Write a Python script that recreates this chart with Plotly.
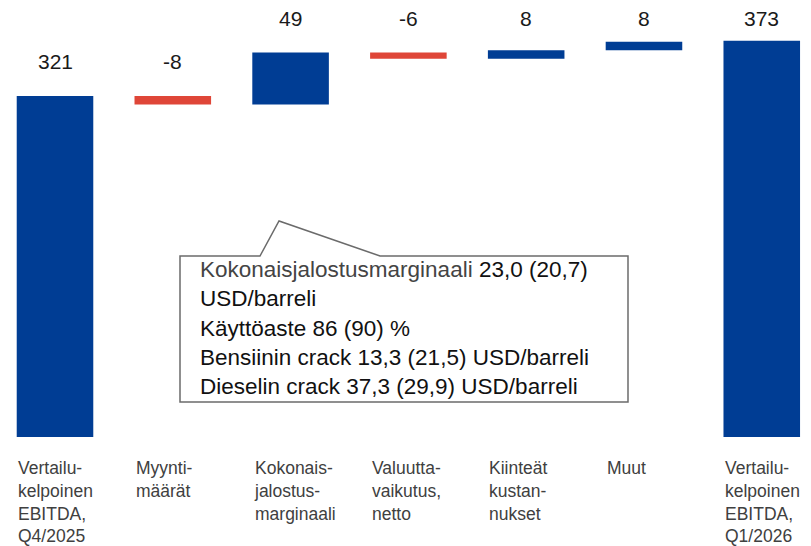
"""
EBITDA bridge Q4/2025 -> Q1/2026 as a Plotly waterfall.
"""

import plotly.graph_objects as go

categories = [
    "Vertailu-<br>kelpoinen<br>EBITDA,<br>Q4/2025",
    "Myynti-<br>määrät",
    "Kokonais-<br>jalostus-<br>marginaali",
    "Valuutta-<br>vaikutus,<br>netto",
    "Kiinteät<br>kustan-<br>nukset",
    "Muut",
    "Vertailu-<br>kelpoinen<br>EBITDA,<br>Q1/2026",
]
values = [321, -8, 49, -6, 8, 8, 373]
measures = ["absolute", "relative", "relative", "relative", "relative", "relative", "absolute"]
value_labels = ["321", "-8", "49", "-6", "8", "8", "373"]

callout_lines = [
    "<span style='color:#444444'>Kokonaisjalostusmarginaali</span> 23,0 (20,7)",
    "USD/barreli",
    "Käyttöaste 86 (90) %",
    "Bensiinin crack 13,3 (21,5) USD/barreli",
    "Dieselin crack 37,3 (29,9) USD/barreli",
]

BLUE = "#003D94"
RED = "#DF4638"
FONT = "Liberation Sans, Arial, sans-serif"

x = list(range(len(values)))

fig = go.Figure(
    go.Waterfall(
        x=x,
        y=values,
        measure=measures,
        width=0.65,
        increasing=dict(marker=dict(color=BLUE)),
        decreasing=dict(marker=dict(color=RED)),
        totals=dict(marker=dict(color=BLUE)),
        connector=dict(visible=False),
        textinfo="none",
        hoverinfo="skip",
    )
)

# running level to place the value labels above each bar
level = 0
annotations = []
for i, (v, m, lab) in enumerate(zip(values, measures, value_labels)):
    if m == "absolute":
        top = v
        level = v
    else:
        top = max(level, level + v)
        level += v
    annotations.append(dict(
        x=i, y=min(top + 32, 394), xref="x", yref="y",
        text=lab, showarrow=False, yanchor="middle",
        font=dict(family=FONT, size=21, color="#1a1a1a"),
    ))
    annotations.append(dict(
        x=i - 0.33, y=-0.044, xref="x", yref="paper",
        text=categories[i], showarrow=False,
        xanchor="left", yanchor="top", align="left",
        font=dict(family=FONT, size=17.5, color="#404040"),
    ))

# callout box text
annotations.append(dict(
    x=0.2366, y=0.2552, xref="paper", yref="paper",
    text="<br>".join(callout_lines), showarrow=False,
    xanchor="left", yanchor="middle", align="left",
    font=dict(family=FONT, size=22.5, color="#111111"),
))

# page body has an 8px margin, so the figure is 8px smaller than the window
fig.update_layout(
    width=803,
    height=538,
    margin=dict(l=0, r=0, t=0, b=109),
    paper_bgcolor="white",
    plot_bgcolor="white",
    showlegend=False,
    xaxis=dict(range=[-0.399, 6.418], visible=False),
    yaxis=dict(range=[0, 403.8], visible=False),
    annotations=annotations,
    shapes=[dict(
        type="path", xref="paper", yref="paper",
        path="M 0.2142 0.4219 L 0.3138 0.4219 L 0.3375 0.5035 L 0.4633 0.4219 "
             "L 0.7721 0.4219 L 0.7721 0.0816 L 0.2142 0.0816 Z",
        line=dict(color="#6b6b6b", width=1.5),
        fillcolor="white",
        layer="above",
    )],
)

fig.write_html("out.html")
